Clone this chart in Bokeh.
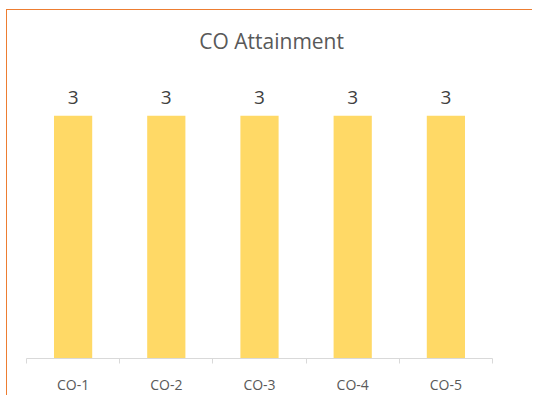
from bokeh.plotting import figure
from bokeh.models import Range1d, FixedTicker, Label, ColumnDataSource
from bokeh.core.properties import value
from bokeh.embed import file_html
from bokeh.resources import INLINE

title_text = "CO Attainment"
categories = ["CO-1", "CO-2", "CO-3", "CO-4", "CO-5"]
attainment = [3, 3, 3, 3, 3]

xs = [i + 0.5 for i in range(len(categories))]
src = ColumnDataSource(dict(x=xs, y=attainment, lbl=[str(v) for v in attainment]))

p = figure(width=526, height=386, output_backend="svg", toolbar_location=None,
           x_range=Range1d(0, len(categories)), y_range=Range1d(0, 4.3),
           min_border_left=19, min_border_right=41, min_border_top=0, min_border_bottom=35)
p.styles = {"margin-left": "6px", "margin-top": "9px",
            "border-left": "1.5px solid #ED7D31", "border-top": "1.5px solid #ED7D31"}
p.outline_line_color = None
p.grid.visible = False
p.yaxis.visible = False

p.vbar(x="x", top="y", width=0.41, bottom=0, source=src, fill_color="#FFD966", line_color=None)
p.text(x="x", y="y", text="lbl", source=src, y_offset=-18, text_align="center",
       text_baseline="alphabetic", text_font=value("Open Sans"), text_font_size="19px",
       text_color="#404040")

ax = p.xaxis[0]
ax.ticker = FixedTicker(ticks=xs, minor_ticks=list(range(len(categories) + 1)))
ax.major_label_overrides = {x: c for x, c in zip(xs, categories)}
ax.major_tick_out = 0
ax.major_tick_in = 0
ax.minor_tick_out = 5
ax.minor_tick_in = 0
ax.minor_tick_line_color = "#D9D9D9"
ax.axis_line_color = "#D9D9D9"
ax.major_label_standoff = 11
ax.major_label_text_font = "Open Sans"
ax.major_label_text_font_size = "14px"
ax.major_label_text_color = "#595959"

p.add_layout(Label(x=2.63, y=3.92, text=title_text, text_align="center", text_baseline="alphabetic",
                   text_font="Open Sans", text_font_size="21px", text_color="#595959"))

open("out.html", "w").write(file_html(p, INLINE))
